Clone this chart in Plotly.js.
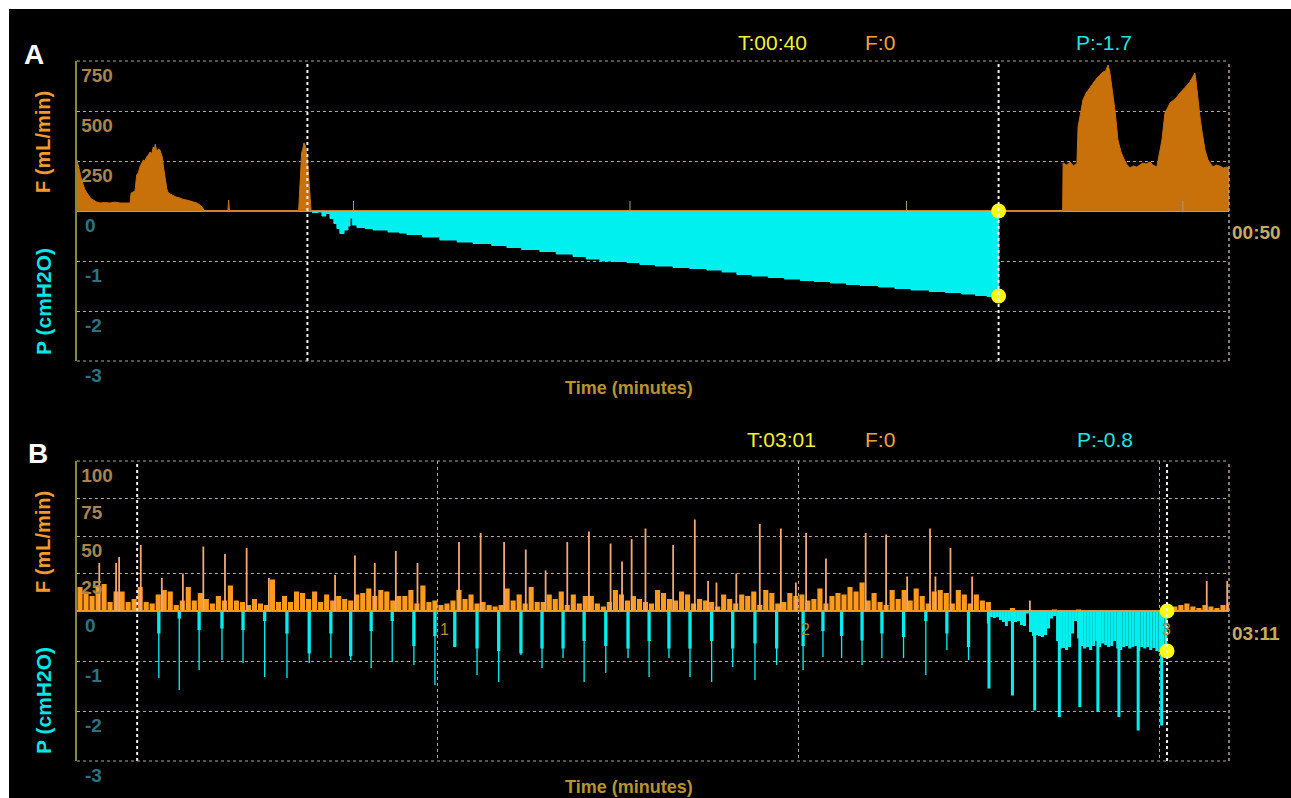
<!DOCTYPE html>
<html>
<head>
<meta charset="utf-8">
<script src="https://cdn.plot.ly/plotly-3.0.1.min.js"></script>
<style>
html,body{margin:0;padding:0;background:#ffffff;width:1291px;height:798px;overflow:hidden}
#chart{position:absolute;left:9px;top:9px;width:1282px;height:789px;background:#000}
</style>
</head>
<body>
<div id="chart"></div>
<script>
// ---------------- Panel A data (seconds; F in mL/min, P in cmH2O) ----------------
const aFlowTime = [0,0.06,0.2,0.35,0.49,0.6,0.71,0.85,1.0,1.2,
  1.43,1.65,1.87,2.1,2.3,2.35,2.45,2.52,2.59,2.66,
  2.73,2.8,2.88,2.95,3.02,3.1,3.17,3.24,3.31,3.35,
  3.4,3.46,3.53,3.6,3.65,3.7,3.76,3.82,3.9,3.96,
  4.05,4.18,4.3,4.47,4.6,4.76,4.9,5.05,5.2,5.34,
  5.45,5.52,6.55,6.58,6.62,9.62,9.68,9.75,9.8,9.85,
  9.9,9.94,10.0,10.04,10.11,10.16,42.78,42.8,42.95,43.1,
  43.25,43.4,43.45,43.53,43.66,43.8,43.96,44.1,44.27,44.4,
  44.53,44.65,44.75,44.82,44.92,45.05,45.18,45.3,45.4,45.55,
  45.7,45.85,46.0,46.13,46.26,46.4,46.57,46.7,46.87,47.0,
  47.09,47.22,47.35,47.44,47.6,47.74,47.87,48.0,48.15,48.3,
  48.42,48.52,48.58,48.65,48.74,48.82,48.96,49.09,49.2,49.3,
  49.45,49.6,49.75,49.9,50];
const aFlowValue = [255,220,155,105,80,62,55,45,40,42,
  40,44,40,42,40,90,95,100,180,190,
  220,235,255,250,270,280,295,285,320,300,
  335,295,310,305,280,270,215,170,110,90,
  85,80,70,65,58,55,50,45,40,30,
  18,0,0,55,0,0,150,290,310,340,
  330,300,260,200,100,0,0,240,230,245,
  225,240,420,470,555,590,615,640,665,680,
  695,700,730,700,620,505,355,300,270,235,
  215,225,220,230,240,235,245,230,220,300,
  355,490,520,540,555,570,590,605,625,645,
  670,690,640,555,470,405,305,255,235,220,
  230,225,215,220,215];
const aPressTime = [10.2,10.46,10.63,10.8,10.98,11.15,11.28,11.41,11.59,11.76,
  11.85,11.95,12.15,12.5,12.85,13.5,14,14.32,15,15.75,
  16.5,17.19,18,18.66,19.3,20.09,20.8,21.53,22.1,22.7,
  23.3,23.87,24.43,25.1,25.87,26.6,27.34,28,28.64,29.3,
  30,30.7,31.4,32,32.7,33.4,34,34.8,35.5,36.2,
  37,37.7,38.4,39,39.5,39.98,40.0];
const aPressValue = [-0.03,-0.02,-0.1,-0.05,-0.15,-0.25,-0.35,-0.45,-0.38,-0.3,
  -0.14,-0.28,-0.33,-0.35,-0.38,-0.42,-0.44,-0.47,-0.52,-0.58,
  -0.62,-0.65,-0.69,-0.73,-0.77,-0.81,-0.86,-0.91,-0.96,-1.0,
  -1.01,-1.03,-1.07,-1.1,-1.13,-1.15,-1.18,-1.22,-1.27,-1.3,
  -1.33,-1.36,-1.39,-1.41,-1.44,-1.47,-1.49,-1.52,-1.55,-1.58,
  -1.61,-1.63,-1.66,-1.69,-1.71,-1.74,0];
const aRange = [0, 50];
const aMarkLines = [10, 40];
const aCursorTime = [40, 40];
const aCursorP = [0, -1.7];
const aZeroTicks = [12, 24, 36, 48];
const aFlowTicks = [250, 500, 750];
const aHeader = ['T:00:40', 'F:0', 'P:-1.7'];
const aEndLabel = '00:50';

// ---------------- Panel B data ----------------
const bFlowBase = [16,13,10,16,18,6,13,13,6,8,
  16,6,5,11,14,13,4,7,16,7,
  12,8,5,10,7,17,7,6,4,8,
  5,4,21,6,10,6,13,12,8,13,
  6,11,7,10,8,7,11,12,15,10,
  14,13,7,10,10,14,5,17,6,7,
  4,5,7,14,8,11,5,6,4,3,
  4,15,7,11,5,16,6,6,11,8,
  13,4,11,5,10,10,5,3,6,14,
  11,7,10,8,6,5,14,12,8,7,
  13,11,5,8,7,6,3,11,8,5,
  11,10,13,4,14,12,5,6,12,10,
  11,7,8,15,5,10,12,11,16,13,
  19,7,12,6,4,14,8,14,7,15,
  10,5,13,14,12,5,14,11,5,11,
  7,6,0,0,0,2,0,0,0,0,
  0,0,1,0,0,0,1,0,0,0,
  0,0,0,0,0,0,0,0,0,0,
  0,0,3,4,5,3,2,4,3,2,
  4,5];
const bFlowSpikeTime = [3.7,6.5,7.0,10.6,14.1,17.6,21.0,24.6,28.2,31.9,
  42.9,46.2,49.5,53.0,56.6,63.5,67.1,71.0,74.6,77.9,
  81.5,85.1,88.7,90.6,92.2,94.5,99.1,102.7,104.9,106.3,
  109.6,113.5,117.0,119.5,121.2,124.5,131.1,134.5,138.0,141.8,
  142.7,145.2,148.8,158.4,187.8,191.2];
const bFlowSpikeValue = [32,32,36,44,22,25,43,38,42,22,
  24,37,32,40,32,46,52,46,41,27,
  46,53,45,33,48,55,44,61,20,19,
  25,58,55,19,52,35,52,51,23,55,
  23,42,23,7,20,20];
const bPressSpikeTime = [13.6,17.0,20.3,24.1,27.6,31.2,34.9,38.6,42.2,45.5,
  48.9,52.4,56.0,59.5,62.8,66.5,70.1,73.8,77.3,80.8,
  84.3,87.9,91.6,95.1,98.4,101.9,105.5,109.0,112.7,116.3,
  120.7,124.0,127.1,130.5,133.8,137.4,141.1,144.6,148.2];
const bPressSpikeTip = [-1.34,-1.58,-1.18,-0.98,-1.04,-1.32,-1.34,-1.04,-0.94,-0.98,
  -1.14,-1.02,-1.08,-1.48,-0.72,-1.28,-1.42,-0.88,-1.14,-0.94,
  -1.42,-1.24,-0.94,-1.32,-0.94,-1.32,-1.42,-1.12,-1.38,-1.08,
  -1.18,-0.92,-0.94,-1.08,-0.94,-0.94,-1.28,-0.78,-0.98];
const bPressSpikeCore = [-0.45,-0.15,-0.38,-0.35,-0.38,-0.2,-0.45,-0.85,-0.45,-0.9,
  -0.4,-0.2,-0.7,-0.5,-0.72,-0.75,-0.8,-0.85,-0.75,-0.75,
  -0.6,-0.7,-0.75,-0.6,-0.75,-0.75,-0.6,-0.75,-0.65,-0.75,
  -0.7,-0.4,-0.5,-0.59,-0.45,-0.52,-0.2,-0.45,-0.72];
const bPressDense = [-0.25,-0.12,-0.14,-0.12,-0.18,-0.22,-0.3,-0.2,-0.35,-0.22,
  -0.2,-0.28,-0.3,-0.05,-0.42,-0.5,-0.48,-0.5,-0.52,-0.48,
  -0.35,-0.15,-0.1,-0.6,-0.75,-0.74,-0.78,-0.72,-0.45,-0.2,
  -0.55,-0.7,-0.75,-0.72,-0.78,-0.7,-0.6,-0.72,-0.65,-0.68,
  -0.72,-0.7,-0.6,-0.75,-0.78,-0.72,-0.7,-0.75,-0.72,-0.7,
  -0.8,-0.72,-0.75,-0.72,-0.78,-0.74,-0.8,-0.82,-0.85,-0.8];
const bPressDenseStart = 151.5, bPressDenseStep = 0.5;
const bDeepTime = [151.6,155.5,159.2,163.3,166.7,169.7,173.2,176.4,180.3];
const bDeepValue = [-1.55,-1.69,-1.99,-2.12,-1.92,-2.02,-2.12,-2.39,-2.29];
const bRange = [0, 191.5];
const bMarkLines = [10, 181.2];
const bMinuteTimes = [60, 120, 180];
const bMinuteLabels = ['1', '2', '3'];
const bCursorTime = [181.2, 181.2];
const bCursorP = [0, -0.8];
const bFlowTicks = [25, 50, 75, 100];
const bHeader = ['T:03:01', 'F:0', 'P:-0.8'];
const bEndLabel = '03:11';

const pressTicks = [0, -1, -2, -3];

// ---------------- styling ----------------
const FONT = 'Liberation Sans, Arial, sans-serif';
const GRID = '#b3a68c';
const CYAN = '#00f0f0';
const ORANGE_A = '#c8700a';
const ORANGE_B = '#ff9a1c';
const SPIKE_B = '#f2a874';
const F_TICK = '#a8844f';
const P_TICK = '#2a7384';

// page (1291x798 window) -> paper coordinates
const PX0 = 77, PX1 = 1229, PY0 = 61, PY1 = 761;
const px = x => (x - PX0) / (PX1 - PX0);
const py = y => (PY1 - y) / (PY1 - PY0);

const traces = [
  {type:'scatter', x:aPressTime, y:aPressValue, xaxis:'x', yaxis:'y2', mode:'lines',
   line:{color:CYAN, width:1, shape:'hv'}, fill:'tozeroy', fillcolor:CYAN, hoverinfo:'skip'},
  {type:'scatter', x:aFlowTime, y:aFlowValue, xaxis:'x', yaxis:'y', mode:'lines',
   line:{color:ORANGE_A, width:1}, fill:'tozeroy', fillcolor:ORANGE_A, hoverinfo:'skip'},
  {type:'scatter', x:aZeroTicks, y:aZeroTicks.map(() => 22), xaxis:'x', yaxis:'y', mode:'markers',
   marker:{symbol:'line-ns', size:8, line:{color:'#a89c80', width:1}}, hoverinfo:'skip'},
  {type:'scatter', x:aCursorTime, y:aCursorP, xaxis:'x', yaxis:'y2', mode:'markers',
   marker:{color:'#ffff00', size:15}, hoverinfo:'skip'},

  {type:'bar', x:bFlowBase.map((_, i) => i + 0.5), y:bFlowBase, xaxis:'x2', yaxis:'y3',
   width:0.85, marker:{color:ORANGE_B, line:{width:0}}, hoverinfo:'skip'},
  {type:'bar', x:bFlowSpikeTime, y:bFlowSpikeValue, xaxis:'x2', yaxis:'y3',
   width:0.3, marker:{color:SPIKE_B, line:{width:0}}, hoverinfo:'skip'},
  {type:'bar', x:bPressDense.map((_, i) => bPressDenseStart + i * bPressDenseStep), y:bPressDense,
   xaxis:'x2', yaxis:'y4', width:0.5, marker:{color:CYAN, line:{width:0}}, hoverinfo:'skip'},
  {type:'bar', x:bPressSpikeTime, y:bPressSpikeTip, xaxis:'x2', yaxis:'y4',
   width:0.22, marker:{color:CYAN, line:{width:0}}, hoverinfo:'skip'},
  {type:'bar', x:bPressSpikeTime, y:bPressSpikeCore, xaxis:'x2', yaxis:'y4',
   width:0.55, marker:{color:CYAN, line:{width:0}}, hoverinfo:'skip'},
  {type:'bar', x:bDeepTime, y:bDeepValue, xaxis:'x2', yaxis:'y4',
   width:0.5, marker:{color:CYAN, line:{width:0}}, hoverinfo:'skip'},
  {type:'scatter', x:bCursorTime, y:bCursorP, xaxis:'x2', yaxis:'y4', mode:'markers',
   marker:{color:'#ffff00', size:15}, hoverinfo:'skip'}
];

const yBase = {showgrid:true, gridcolor:GRID, griddash:'dot', gridwidth:1, ticks:'',
  ticklabelposition:'inside', ticklabelshift:14, ticklabelstandoff:5, ticklabeloverflow:'allow',
  fixedrange:true, zeroline:false};
const fTickFont = {family:FONT, size:19, color:F_TICK, weight:'bold'};
const pTickFont = {family:FONT, size:19, color:P_TICK, weight:'bold'};

const layout = {
  width:1282, height:789,
  margin:{l:68, r:62, t:52, b:37, pad:0},
  paper_bgcolor:'#000000', plot_bgcolor:'#000000',
  showlegend:false, barmode:'overlay',
  xaxis:{domain:[0,1], range:aRange, anchor:'y', showgrid:false, zeroline:false,
    showticklabels:false, ticks:'', showline:false, fixedrange:true},
  yaxis:Object.assign({}, yBase, {domain:[4/7,1], range:[-750,750], anchor:'x',
    tickvals:aFlowTicks, ticktext:aFlowTicks.map(String), tickfont:fTickFont,
    showline:true, linecolor:'#8a8838', linewidth:2,
    zeroline:true, zerolinecolor:'#d89440', zerolinewidth:1.5}),
  yaxis2:Object.assign({}, yBase, {overlaying:'y', anchor:'x', side:'left', range:[-3,3],
    tickvals:pressTicks, ticktext:pressTicks.map(String), tickfont:pTickFont}),
  xaxis2:{domain:[0,1], range:bRange, anchor:'y3', showgrid:true, gridcolor:GRID, griddash:'dot',
    gridwidth:1, tickvals:bMinuteTimes, showticklabels:false, ticks:'', zeroline:false,
    showline:false, fixedrange:true},
  yaxis3:Object.assign({}, yBase, {domain:[0,3/7], range:[-100,100], anchor:'x2',
    tickvals:bFlowTicks, ticktext:bFlowTicks.map(String), tickfont:fTickFont,
    showline:true, linecolor:'#8a8838', linewidth:2,
    zeroline:true, zerolinecolor:'#d89440', zerolinewidth:1.5}),
  yaxis4:Object.assign({}, yBase, {overlaying:'y3', anchor:'x2', side:'left', range:[-3,3],
    tickvals:pressTicks, ticktext:pressTicks.map(String), tickfont:pTickFont}),
  shapes:[],
  annotations:[]
};

// vertical dotted marker lines
aMarkLines.forEach(t => layout.shapes.push({type:'line', xref:'x', yref:'y domain', x0:t, x1:t, y0:0, y1:1,
  line:{color:'#eeeeee', width:2, dash:'dot'}}));
bMarkLines.forEach(t => layout.shapes.push({type:'line', xref:'x2', yref:'y3 domain', x0:t, x1:t, y0:0, y1:1,
  line:{color:'#eeeeee', width:2, dash:'dot'}}));
// frame: right border plus top and bottom dotted lines of each panel
['y domain', 'y3 domain'].forEach(r => {
  layout.shapes.push({type:'line', xref:'paper', yref:r, x0:1, x1:1, y0:0, y1:1,
    line:{color:GRID, width:1.5, dash:'dot'}});
  [0, 1].forEach(e => layout.shapes.push({type:'line', xref:'paper', yref:r, x0:0, x1:1, y0:e, y1:e,
    line:{color:GRID, width:1, dash:'dot'}}));
});

function ann(text, x, y, color, size, extra) {
  return Object.assign({text:text, x:px(x), y:py(y), xref:'paper', yref:'paper', showarrow:false,
    xanchor:'center', yanchor:'middle', font:{family:FONT, size:size, color:color}}, extra || {});
}
const A = layout.annotations;
// panel letters
A.push(ann('A', 34, 55, '#ffffff', 28, {font:{family:FONT, size:28, color:'#ffffff', weight:'bold'}}));
A.push(ann('B', 38, 453, '#ffffff', 28, {font:{family:FONT, size:28, color:'#ffffff', weight:'bold'}}));
// axis titles
[[142, 302], [542, 701]].forEach(([fy, pyy]) => {
  A.push(ann('F (mL/min)', 43, fy, '#f39a2c', 20, {textangle:-90, font:{family:FONT, size:20, color:'#f39a2c', weight:'bold'}}));
  A.push(ann('P (cmH2O)', 43, pyy, '#00e6e6', 21, {textangle:-90, font:{family:FONT, size:21, color:'#00e6e6', weight:'bold'}}));
});
// x titles
[388, 787].forEach(yy => A.push(ann('Time (minutes)', 629, yy, '#b8942e', 18,
  {font:{family:FONT, size:18, color:'#b8942e', weight:'bold'}})));
// end labels
A.push(ann(aEndLabel, 1256, 233, '#c8aa60', 19, {font:{family:FONT, size:19, color:'#c8aa60', weight:'bold'}}));
A.push(ann(bEndLabel, 1256, 633, '#c8aa60', 19, {font:{family:FONT, size:19, color:'#c8aa60', weight:'bold'}}));
// headers
const hc = ['#f2f230', '#f5a040', '#22e2e2'];
aHeader.forEach((t, i) => A.push(ann(t, [772, 880, 1104][i], 42, hc[i], 21)));
bHeader.forEach((t, i) => A.push(ann(t, [781, 880, 1105][i], 440, hc[i], 21)));
// minute labels in B
bMinuteTimes.forEach((t, i) => A.push({text:bMinuteLabels[i], x:t, y:0, xref:'x2', yref:'y3',
  xanchor:'left', yanchor:'top', yshift:-8, showarrow:false,
  font:{family:FONT, size:16, color:'#b88a2a'}}));

Plotly.newPlot('chart', traces, layout, {staticPlot:true, displayModeBar:false});
</script>
</body>
</html>
